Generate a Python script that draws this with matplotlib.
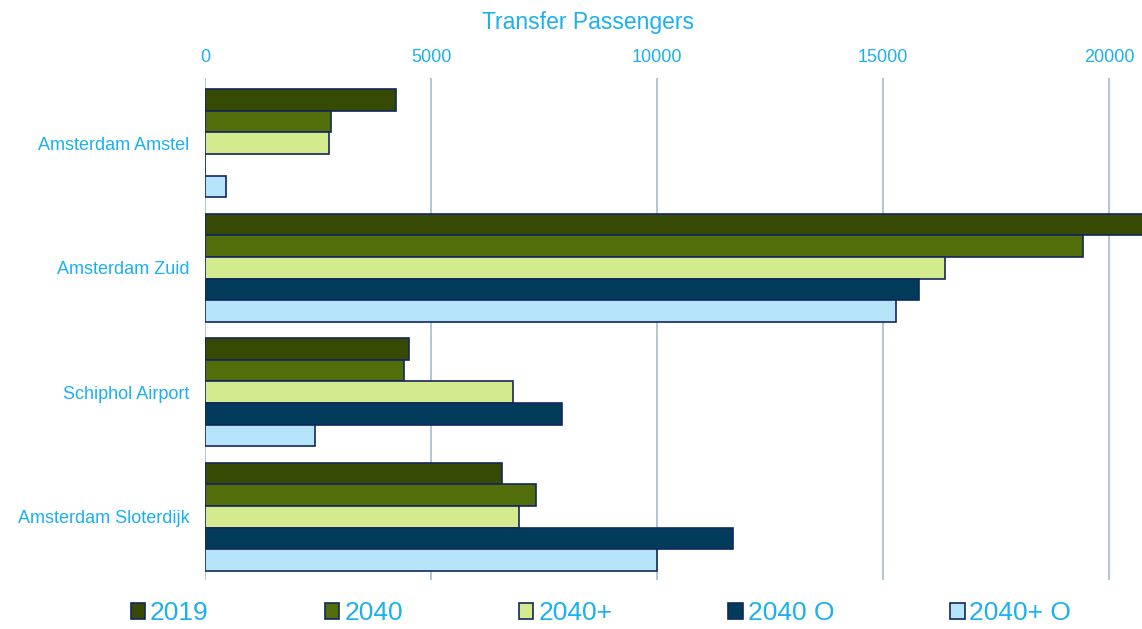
import matplotlib
matplotlib.use("Agg")
import matplotlib.pyplot as plt
from matplotlib.patches import Patch
import numpy as np

plt.rcParams['font.family'] = ['Liberation Sans', 'DejaVu Sans']

stations = ["Amsterdam Amstel", "Amsterdam Zuid", "Schiphol Airport", "Amsterdam Sloterdijk"]
series_names = ["2019", "2040", "2040+", "2040 O", "2040+ O"]
values_2019 = [4230, 20800, 4510, 6570]
values_2040 = [2790, 19420, 4400, 7320]
values_2040p = [2740, 16370, 6810, 6950]
values_2040_o = [0, 15800, 7900, 11680]
values_2040p_o = [470, 15290, 2430, 10000]
x_ticks = [0, 5000, 10000, 15000, 20000]

series = [values_2019, values_2040, values_2040p, values_2040_o, values_2040p_o]
colors = ["#374a04", "#526e0a", "#d4ea8e", "#023c5a", "#b6e5fb"]
edge = "#14275e"
text_color = "#1cb0ee"
grid_color = "#adc3cf"

fig = plt.figure(figsize=(11.42, 6.29), dpi=100)
ax = fig.add_axes([205 / 1142, 1 - 580 / 629, 1 - 205 / 1142, (580 - 78) / 629])

bar_h = 0.174
y = np.arange(len(stations))
for i, (vals, c) in enumerate(zip(series, colors)):
    offs = (i - 2) * bar_h
    ax.barh(y + offs, vals, height=bar_h, color=c, edgecolor=edge, linewidth=1.2, zorder=3)

ax.set_xlim(0, 20730)
ax.set_ylim(3.508, -0.524)
ax.xaxis.tick_top()
ax.set_xticks(x_ticks)
ax.set_xticklabels([str(t) for t in x_ticks], color=text_color, fontsize=13)
ax.tick_params(axis='x', length=0, pad=9)
ax.set_yticks(y)
ax.set_yticklabels(stations, color=text_color, fontsize=13)
ax.tick_params(axis='y', length=0, pad=11)
for t in x_ticks:
    ax.axvline(t, color=grid_color, linewidth=1.3, zorder=1)
for s in ax.spines.values():
    s.set_visible(False)

fig.text(588 / 1142, 1 - 22 / 629, "Transfer Passengers", color=text_color,
         fontsize=16.5, ha='center', va='center')

handles = [Patch(facecolor=c, edgecolor=edge, linewidth=1.2) for c in colors]
fig.legend(handles, series_names, loc='center', bbox_to_anchor=(601 / 1142, 1 - 613 / 629),
           ncol=5, frameon=False, fontsize=19, labelcolor=text_color,
           handlelength=0.55, handleheight=0.55, handletextpad=0.18, columnspacing=4.4)

fig.savefig("out.png", dpi=100)
